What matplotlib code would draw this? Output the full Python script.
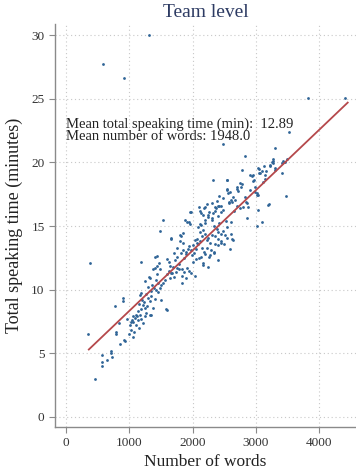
import matplotlib
matplotlib.use("Agg")
import matplotlib.pyplot as plt

plt.rcParams['font.family'] = ['Liberation Serif', 'DejaVu Serif']

# Number of words per team
words = [
    380, 350, 450, 565, 565, 575, 655, 705, 710, 730,
    780, 790, 795, 830, 860, 900, 905, 910, 935, 960,
    1000, 1020, 1030, 1055, 1060, 1035, 1005, 1085, 1110, 1140,
    1165, 1190, 1190, 1180, 1215, 1245, 1255, 1295, 1320, 1350,
    590, 920, 1315, 3825, 4415, 3530, 3300, 2476, 2828, 3476,
    1320, 1375, 1320, 1350, 1425, 1455, 1480, 1505, 1535, 1480,
    1505, 1585, 1560, 1590, 1620, 1650, 1680, 1700, 1740, 1780,
    1100, 1130, 1150, 1170, 1200, 1230, 1260, 1280, 1300, 1340,
    1360, 1390, 1400, 1420, 1440, 1460, 1400, 1470, 1430, 1380,
    1250, 1270, 1210, 1150, 1080, 1060, 1120, 1180, 1443, 1410,
    1316, 1600, 1590, 1650, 1750, 1830, 1890, 2038, 2170, 2275,
    2330, 1954, 1664, 1822, 1849, 1980, 1537, 1485, 1654, 1880,
    1948, 2106, 2133, 2200, 2250, 2300, 2350, 2400, 2450, 2528,
    2007, 2040, 2070, 2090, 2112, 1896, 1920, 1950, 1975, 1660,
    1690, 1720, 1750, 1780, 1810, 1850, 1840, 2243, 2300, 2350,
    2400, 2450, 2512, 2133, 2180, 2230, 2280, 2330, 2400, 2449,
    2400, 2243, 2165, 1830, 1870, 1910, 1940, 1975, 1801, 1800,
    1850, 2070, 2110, 2150, 2190, 2230, 2350, 2400, 2450, 2500,
    2540, 2590, 2630, 2640, 2085, 2120, 2160, 2196, 2330, 2380,
    2420, 2480, 2550, 2600, 1907, 1959, 2117, 2160, 2200, 2250,
    2307, 2327, 2370, 2420, 2476, 1860, 1900, 1990, 2020, 2060,
    2100, 2150, 2200, 2260, 2290, 2010, 2050, 1760, 1700, 1620,
    2318, 2539, 2544, 2749, 2697, 2907, 2950, 2986, 3118, 2549,
    2644, 2670, 2855, 2749, 2802, 2776, 3044, 3044, 3123, 3265,
    3265, 3307, 3407, 3460, 3023, 3197, 3013, 3092, 2855, 3265,
    2944, 2975, 3223, 3140, 3160, 2539, 2700, 2720, 2590, 2560,
    2828, 2850, 2880, 2986, 3013, 3039, 2575, 2600, 2617, 2350,
    2400, 2455, 2580, 2775, 2760, 3028, 3213, 3144, 3065, 3092,
    3039, 2960, 3223, 3250, 3407, 3434, 3487, 3300, 2650, 2700,
    2480, 2420, 2380, 2300, 2260, 2180, 2230, 2140, 2600, 2900,
]

# Total speaking time (minutes) per team
minutes = [
    12.1, 6.5, 3.0, 4.3, 4.0, 4.85, 4.5, 5.15, 5.0, 4.7,
    8.7, 6.7, 6.5, 7.4, 5.75, 9.35, 9.15, 6.05, 6.0, 7.7,
    6.5, 6.85, 7.45, 7.9, 7.5, 7.65, 7.25, 7.8, 8.05, 8.3,
    9.6, 9.75, 8.45, 12.2, 8.8, 8.55, 10.7, 9.35, 9.1, 9.5,
    27.7, 26.6, 30.0, 25.1, 25.05, 22.4, 21.1, 21.45, 20.5, 17.4,
    10.9, 11.65, 8.05, 8.05, 10.0, 9.8, 10.1, 10.4, 10.5, 11.6,
    9.2, 8.45, 10.8, 11.2, 11.5, 10.9, 11.3, 11.0, 11.4, 11.6,
    7.2, 7.6, 8.9, 8.0, 9.2, 9.0, 9.7, 8.7, 10.2, 9.9,
    10.4, 10.1, 9.3, 10.8, 11.2, 10.5, 12.6, 12.1, 11.9, 8.6,
    7.9, 8.2, 7.4, 7.0, 6.7, 6.3, 7.9, 7.7, 12.65, 11.7,
    11.0, 8.4, 12.4, 11.9, 11.7, 10.5, 10.9, 11.1, 11.95, 12.7,
    13.0, 15.2, 14.05, 14.2, 14.45, 16.1, 15.5, 14.6, 14.0, 15.5,
    15.3, 16.5, 15.1, 15.5, 15.9, 15.6, 16.2, 15.8, 16.1, 15.4,
    13.5, 13.9, 13.7, 13.6, 13.8, 13.0, 13.2, 13.4, 13.1, 11.3,
    11.8, 12.3, 12.6, 12.0, 12.9, 13.1, 11.6, 14.1, 14.3, 14.2,
    14.5, 14.4, 14.3, 12.6, 13.0, 13.3, 13.7, 12.9, 13.5, 13.7,
    12.35, 11.8, 12.1, 11.1, 11.4, 11.7, 11.5, 11.3, 14.3, 13.8,
    13.7, 14.0, 14.5, 14.2, 14.4, 13.9, 13.6, 14.0, 13.8, 13.6,
    14.1, 13.2, 14.0, 13.9, 14.9, 15.2, 14.7, 15.25, 15.0, 14.8,
    15.25, 14.6, 14.9, 14.4, 15.3, 16.1, 16.2, 15.9, 16.5, 15.7,
    15.5, 16.0, 16.4, 16.6, 16.3, 12.5, 12.8, 12.7, 12.9, 13.2,
    12.5, 13.3, 12.8, 12.6, 13.1, 12.2, 12.4, 13.3, 12.9, 12.2,
    18.6, 18.6, 18.6, 18.4, 18.05, 19.0, 18.55, 18.1, 18.5, 17.9,
    17.3, 17.05, 16.8, 16.4, 16.5, 19.4, 19.5, 19.2, 19.7, 20.1,
    19.95, 19.4, 19.2, 20.07, 17.45, 16.65, 15.0, 15.3, 15.6, 20.25,
    18.95, 18.6, 19.7, 19.0, 19.3, 17.85, 17.9, 17.75, 17.7, 17.6,
    17.3, 16.9, 16.5, 17.65, 17.6, 17.45, 16.8, 17.05, 16.9, 16.5,
    16.55, 16.6, 16.9, 18.3, 18.1, 16.3, 16.7, 18.7, 19.15, 19.3,
    19.55, 19.0, 19.8, 20.0, 19.95, 20.1, 20.3, 19.6, 16.2, 16.6,
    17.2, 17.4, 17.0, 16.8, 16.1, 16.4, 16.7, 16.0, 15.3, 17.8,
]

# Fitted line end points (words, minutes)
fit_words = [360, 4450]
fit_minutes = [5.3, 24.7]

mean_minutes = 12.89
mean_words = 1948.0

x_ticks = [0, 1000, 2000, 3000, 4000]
y_ticks = [0, 5, 10, 15, 20, 25, 30]

point_color = "#2f6496"
line_color = "#b5484b"
title_color = "#2d3b63"
axis_gray = "#8a8a8a"

fig = plt.figure(figsize=(3.56, 4.72), dpi=100)
ax = fig.add_axes([0.1545, 0.0953, 0.8455, 0.8537])

ax.grid(True, linestyle=(0, (1, 2.5)), color="#c8c8c8", linewidth=0.8)
ax.set_axisbelow(True)

ax.scatter(words, minutes, s=4, color=point_color, linewidths=0, zorder=3)
ax.plot(fit_words, fit_minutes, color=line_color, linewidth=1.3, zorder=4)

ax.set_xlim(-174, 4581)
ax.set_ylim(-0.79, 30.87)
ax.set_xticks(x_ticks)
ax.set_yticks(y_ticks)

for side in ("top", "right"):
    ax.spines[side].set_visible(False)
for side in ("left", "bottom"):
    ax.spines[side].set_color(axis_gray)
    ax.spines[side].set_linewidth(1.0)

ax.tick_params(axis="both", colors=axis_gray, labelcolor="#333333",
               labelsize=9.5, length=4, width=0.8, direction="out")

ax.set_xlabel("Number of words", fontsize=12.5, color="#222222", labelpad=3)
ax.set_ylabel("Total speaking time (minutes)", fontsize=13, color="#222222", labelpad=6)

fig.text(0.578, 0.974, "Team level", ha="center", va="center",
         fontsize=14, color=title_color)

ax.text(0, 23.0, f"Mean total speaking time (min):  {mean_minutes:.2f}",
        ha="left", va="center", fontsize=10.5, color="#222222", zorder=5)
ax.text(0, 22.0, f"Mean number of words: {mean_words:.1f}",
        ha="left", va="center", fontsize=10.5, color="#222222", zorder=5)

fig.savefig("out.png", dpi=100)
